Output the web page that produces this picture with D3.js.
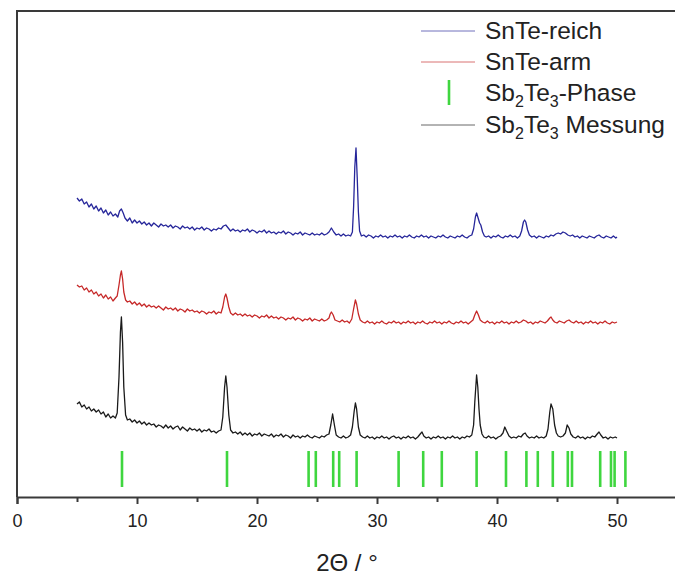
<!DOCTYPE html>
<html>
<head>
<meta charset="utf-8">
<script src="https://cdn.jsdelivr.net/npm/d3@7"></script>
<style>
  html, body { margin: 0; padding: 0; background: #fff; }
  svg { display: block; font-family: "Liberation Sans", Arial, sans-serif; }
</style>
</head>
<body>
<svg id="chart" width="675" height="577"></svg>
<script>
// ---------- data (2Θ in degrees, intensity in arbitrary units, stacked) ----------
const xTicks = [0, 10, 20, 30, 40, 50];
const xMinorTicks = [5, 15, 25, 35, 45, 55];
const seriesNames = ["SnTe-reich", "SnTe-arm", "Sb2Te3-Phase", "Sb2Te3 Messung"];

const snteReich = [[5.0,299],[5.2,296],[5.4,298],[5.6,293],[5.8,295],[6.0,290],[6.2,293],[6.4,288],[6.6,291],[6.8,286],[7.0,289],[7.2,284],[7.4,287],[7.6,282],[7.8,285],[8.0,281],[8.2,283],[8.4,280],[8.55,286],[8.7,288],[8.85,284],[9.0,279],[9.2,276],[9.4,279],[9.6,274],[9.8,277],[10.0,274],[10.2,276],[10.4,273],[10.6,275],[10.8,272],[11.0,274],[11.2,271],[11.4,274],[11.6,272],[11.8,270],[12.0,273],[12.2,271],[12.4,272],[12.6,270],[12.8,272],[13.0,269],[13.2,271],[13.4,270],[13.6,268],[13.8,271],[14.0,269],[14.2,270],[14.4,268],[14.6,270],[14.8,267],[15.0,269],[15.2,268],[15.4,270],[15.6,267],[15.8,269],[16.0,268],[16.2,266],[16.4,268],[16.6,267],[16.8,269],[17.0,268],[17.2,271],[17.4,272],[17.6,269],[17.8,266],[18.0,268],[18.2,266],[18.4,267],[18.6,265],[18.8,267],[19.0,266],[19.2,268],[19.4,265],[19.6,267],[19.8,266],[20.0,264],[20.2,266],[20.4,265],[20.6,267],[20.8,264],[21.0,266],[21.2,264],[21.4,265],[21.6,263],[21.8,265],[22.0,264],[22.2,266],[22.4,263],[22.6,265],[22.8,264],[23.0,262],[23.2,264],[23.4,263],[23.6,265],[23.8,262],[24.0,264],[24.2,263],[24.4,262],[24.6,264],[24.8,262],[25.0,263],[25.2,262],[25.4,264],[25.6,262],[25.8,263],[26.0,265],[26.2,269],[26.4,265],[26.6,262],[26.8,263],[27.0,261],[27.2,263],[27.4,261],[27.6,262],[27.8,261],[27.95,265],[28.05,290],[28.15,330],[28.25,349],[28.35,320],[28.45,285],[28.55,266],[28.7,261],[28.9,262],[29.1,260],[29.3,262],[29.5,261],[29.7,259],[29.9,261],[30.1,260],[30.3,262],[30.5,260],[30.7,261],[30.9,259],[31.1,261],[31.3,260],[31.5,262],[31.7,260],[31.9,261],[32.1,259],[32.3,261],[32.5,260],[32.7,262],[32.9,260],[33.1,259],[33.3,261],[33.5,260],[33.7,262],[33.9,260],[34.1,261],[34.3,259],[34.5,261],[34.7,260],[34.9,259],[35.1,261],[35.3,260],[35.5,262],[35.7,260],[35.9,259],[36.1,261],[36.3,260],[36.5,259],[36.7,261],[36.9,260],[37.1,262],[37.3,260],[37.5,259],[37.7,261],[37.9,262],[38.05,268],[38.2,280],[38.3,284],[38.4,280],[38.55,274],[38.65,272],[38.8,265],[38.95,261],[39.1,260],[39.3,261],[39.5,259],[39.7,261],[39.9,260],[40.1,262],[40.3,260],[40.5,259],[40.7,261],[40.9,260],[41.1,262],[41.3,260],[41.5,261],[41.7,259],[41.9,261],[42.05,266],[42.2,275],[42.3,277],[42.4,275],[42.55,267],[42.7,262],[42.9,260],[43.1,261],[43.3,259],[43.5,261],[43.7,260],[43.9,259],[44.1,261],[44.3,260],[44.5,262],[44.7,261],[44.9,263],[45.1,264],[45.3,263],[45.5,265],[45.7,264],[45.9,262],[46.1,261],[46.3,262],[46.5,260],[46.7,261],[46.9,259],[47.1,261],[47.3,260],[47.5,259],[47.7,261],[47.9,260],[48.1,259],[48.3,261],[48.5,262],[48.7,260],[48.9,259],[49.1,261],[49.3,260],[49.5,259],[49.7,261],[49.9,259],[50.0,260]];

const snteArm = [[5.0,212],[5.2,210],[5.4,211],[5.6,207],[5.8,209],[6.0,205],[6.2,207],[6.4,203],[6.6,205],[6.8,201],[7.0,203],[7.2,199],[7.4,202],[7.6,198],[7.8,200],[8.0,196],[8.2,199],[8.35,201],[8.5,212],[8.62,222],[8.7,226],[8.8,218],[8.9,205],[9.05,197],[9.2,195],[9.4,196],[9.6,193],[9.8,195],[10.0,192],[10.2,194],[10.4,191],[10.6,193],[10.8,190],[11.0,192],[11.2,190],[11.4,191],[11.6,189],[11.8,191],[12.0,189],[12.2,187],[12.4,190],[12.6,188],[12.8,189],[13.0,187],[13.2,189],[13.4,186],[13.6,188],[13.8,187],[14.0,185],[14.2,188],[14.4,186],[14.6,187],[14.8,185],[15.0,186],[15.2,184],[15.4,186],[15.6,185],[15.8,183],[16.0,185],[16.2,184],[16.4,186],[16.6,183],[16.8,185],[17.0,184],[17.15,190],[17.3,200],[17.4,203],[17.5,199],[17.65,190],[17.8,184],[18.0,182],[18.2,184],[18.4,182],[18.6,183],[18.8,181],[19.0,183],[19.2,181],[19.4,182],[19.6,180],[19.8,182],[20.0,181],[20.2,179],[20.4,181],[20.6,180],[20.8,182],[21.0,179],[21.2,181],[21.4,179],[21.6,180],[21.8,178],[22.0,180],[22.2,179],[22.4,177],[22.6,179],[22.8,178],[23.0,180],[23.2,177],[23.4,179],[23.6,178],[23.8,176],[24.0,178],[24.2,177],[24.4,179],[24.6,176],[24.8,178],[25.0,177],[25.2,176],[25.4,178],[25.6,176],[25.8,177],[26.0,179],[26.1,183],[26.2,185],[26.35,182],[26.5,177],[26.7,176],[26.9,175],[27.1,177],[27.3,175],[27.5,176],[27.7,174],[27.9,178],[28.05,188],[28.2,197],[28.3,193],[28.45,183],[28.6,177],[28.8,175],[29.0,174],[29.2,176],[29.4,174],[29.6,175],[29.8,173],[30.0,175],[30.2,174],[30.4,176],[30.6,174],[30.8,173],[31.0,175],[31.2,174],[31.4,176],[31.6,174],[31.8,175],[32.0,173],[32.2,175],[32.4,174],[32.6,176],[32.8,174],[33.0,175],[33.2,173],[33.4,175],[33.6,174],[33.8,176],[34.0,174],[34.2,173],[34.4,175],[34.6,174],[34.8,176],[35.0,174],[35.2,175],[35.4,173],[35.6,175],[35.8,174],[36.0,176],[36.2,174],[36.4,173],[36.6,175],[36.8,174],[37.0,176],[37.2,174],[37.4,175],[37.6,173],[37.8,175],[38.0,177],[38.15,182],[38.3,186],[38.45,182],[38.6,177],[38.8,175],[39.0,174],[39.2,176],[39.4,174],[39.6,175],[39.8,173],[40.0,175],[40.2,174],[40.4,176],[40.6,174],[40.8,175],[41.0,173],[41.2,175],[41.4,174],[41.6,176],[41.8,174],[42.0,175],[42.2,177],[42.4,176],[42.6,174],[42.8,175],[43.0,173],[43.2,175],[43.4,174],[43.6,176],[43.8,175],[44.0,174],[44.2,176],[44.4,179],[44.5,180],[44.65,177],[44.8,175],[45.0,174],[45.2,176],[45.4,175],[45.6,174],[45.8,176],[46.0,177],[46.2,175],[46.4,174],[46.6,176],[46.8,174],[47.0,175],[47.2,173],[47.4,175],[47.6,174],[47.8,176],[48.0,174],[48.2,175],[48.4,173],[48.6,175],[48.8,174],[49.0,176],[49.2,174],[49.4,173],[49.6,175],[49.8,174],[50.0,175]];

const sb2te3Messung = [[5.0,93],[5.2,95],[5.4,90],[5.6,92],[5.8,88],[6.0,90],[6.2,86],[6.4,88],[6.6,85],[6.8,87],[7.0,83],[7.2,85],[7.4,80],[7.6,83],[7.8,79],[8.0,81],[8.2,79],[8.35,84],[8.5,120],[8.62,165],[8.7,180],[8.8,155],[8.9,110],[9.05,82],[9.2,77],[9.4,78],[9.6,75],[9.8,77],[10.0,74],[10.2,76],[10.4,73],[10.6,75],[10.8,72],[11.0,74],[11.2,72],[11.4,73],[11.6,70],[11.8,72],[12.0,71],[12.2,69],[12.4,72],[12.6,69],[12.8,71],[13.0,68],[13.2,70],[13.4,71],[13.6,67],[13.8,70],[14.0,68],[14.2,66],[14.4,69],[14.6,67],[14.8,68],[15.0,66],[15.2,68],[15.4,65],[15.6,67],[15.8,66],[16.0,68],[16.2,65],[16.4,66],[16.6,64],[16.8,66],[17.0,67],[17.15,80],[17.3,110],[17.4,121],[17.5,110],[17.65,82],[17.8,67],[18.0,64],[18.2,65],[18.4,63],[18.6,65],[18.8,62],[19.0,64],[19.2,62],[19.4,64],[19.6,61],[19.8,63],[20.0,62],[20.2,64],[20.4,61],[20.6,63],[20.8,62],[21.0,61],[21.2,63],[21.4,60],[21.6,62],[21.8,61],[22.0,63],[22.2,60],[22.4,62],[22.6,61],[22.8,59],[23.0,62],[23.2,60],[23.4,61],[23.6,59],[23.8,61],[24.0,60],[24.2,62],[24.4,60],[24.6,59],[24.8,61],[25.0,60],[25.2,59],[25.4,61],[25.6,60],[25.8,62],[26.0,63],[26.15,72],[26.3,83],[26.45,72],[26.6,62],[26.8,60],[27.0,59],[27.2,61],[27.4,59],[27.6,60],[27.8,62],[27.95,70],[28.1,86],[28.2,94],[28.3,88],[28.45,70],[28.6,62],[28.8,60],[29.0,59],[29.2,61],[29.4,59],[29.6,60],[29.8,58],[30.0,60],[30.2,59],[30.4,61],[30.6,59],[30.8,60],[31.0,58],[31.2,60],[31.4,61],[31.6,59],[31.8,60],[32.0,58],[32.2,60],[32.4,59],[32.6,61],[32.8,59],[33.0,60],[33.2,58],[33.4,60],[33.6,63],[33.75,65],[33.9,61],[34.1,59],[34.3,60],[34.5,58],[34.7,60],[34.9,59],[35.1,61],[35.3,59],[35.5,60],[35.7,58],[35.9,60],[36.1,59],[36.3,61],[36.5,59],[36.7,60],[36.9,58],[37.1,60],[37.3,59],[37.5,61],[37.7,60],[37.9,62],[38.05,72],[38.15,95],[38.3,122],[38.4,110],[38.5,88],[38.6,72],[38.75,63],[38.9,60],[39.1,59],[39.3,61],[39.5,59],[39.7,60],[39.9,58],[40.1,60],[40.3,61],[40.5,64],[40.65,70],[40.8,66],[41.0,61],[41.2,59],[41.4,60],[41.6,59],[41.8,61],[42.0,60],[42.2,63],[42.35,64],[42.5,61],[42.7,59],[42.9,60],[43.1,59],[43.3,61],[43.5,59],[43.7,60],[43.9,59],[44.1,61],[44.25,68],[44.4,85],[44.5,93],[44.65,88],[44.8,72],[44.95,64],[45.1,61],[45.3,60],[45.5,61],[45.7,64],[45.85,72],[46.0,69],[46.15,63],[46.35,60],[46.55,59],[46.75,61],[46.95,59],[47.15,60],[47.35,58],[47.55,60],[47.75,59],[47.95,61],[48.15,60],[48.35,63],[48.5,65],[48.65,62],[48.85,59],[49.05,60],[49.25,58],[49.45,60],[49.65,59],[49.85,60],[50.0,59]];

const sb2te3Phase = [8.75, 17.5, 24.3, 24.9, 26.35, 26.85, 28.3, 31.8, 33.85, 35.4, 38.3, 40.75, 42.45, 43.4, 44.65, 45.9, 46.25, 48.6, 49.5, 49.8, 50.7];

// ---------- layout / style ----------
const svg = d3.select("#chart");
const M = { left: 17, top: 11, right: 677, bottom: 497 };
const x = d3.scaleLinear().domain([0, 55]).range([M.left, M.right]);
const y = d3.scaleLinear().domain([0, 486]).range([M.bottom, M.top]);

const colors = { reich: "#26269a", arm: "#c62828", phase: "#3fd63f", mess: "#1a1a1a" };
const axisColor = "#3a3a3a";
const textColor = "#222";

// reference (phase) sticks
svg.append("g").selectAll("line").data(sb2te3Phase).join("line")
  .attr("x1", d => x(d)).attr("x2", d => x(d))
  .attr("y1", y(10)).attr("y2", y(46))
  .attr("stroke", colors.phase).attr("stroke-width", 2.6);

// curves
const line = d3.line().x(d => x(d[0])).y(d => y(d[1]));
[[snteReich, colors.reich], [snteArm, colors.arm], [sb2te3Messung, colors.mess]].forEach(([data, c]) => {
  svg.append("path").datum(data)
    .attr("d", line).attr("fill", "none")
    .attr("stroke", c).attr("stroke-width", 1.3).attr("stroke-linejoin", "round");
});

// frame (top + left; right edge lies just outside the view)
svg.append("path")
  .attr("d", `M${M.left},${M.bottom} V${M.top} H${M.right + 5}`)
  .attr("fill", "none").attr("stroke", axisColor).attr("stroke-width", 2);

// bottom axis
const gx = svg.append("g").attr("transform", `translate(0,${M.bottom})`)
  .call(d3.axisBottom(x).tickValues(xTicks).tickSize(7).tickPadding(10).tickFormat(d3.format("d")));
gx.select(".domain").attr("stroke", axisColor).attr("stroke-width", 2);
gx.selectAll(".tick line").attr("stroke", axisColor).attr("stroke-width", 2);
gx.selectAll(".tick text").attr("fill", textColor).attr("font-size", 18)
  .attr("font-family", "'Liberation Sans', Arial, sans-serif");

const gm = svg.append("g").attr("transform", `translate(0,${M.bottom})`)
  .call(d3.axisBottom(x).tickValues(xMinorTicks).tickSize(5).tickFormat(""));
gm.select(".domain").remove();
gm.selectAll(".tick line").attr("stroke", axisColor).attr("stroke-width", 2);

// axis title
svg.append("text")
  .attr("x", x(27.5)).attr("y", 571)
  .attr("text-anchor", "middle").attr("font-size", 24).attr("fill", textColor)
  .text("2Θ / °");

// legend
const lg = svg.append("g").attr("font-size", 24.5).attr("fill", textColor);
const lx1 = 421, lx2 = 475, tx = 485;
const rows = [
  { y: 39, kind: "line", color: colors.reich, parts: [["SnTe-reich", false]] },
  { y: 70, kind: "line", color: colors.arm, parts: [["SnTe-arm", false]] },
  { y: 101, kind: "stick", color: colors.phase, parts: [["Sb", false], ["2", true], ["Te", false], ["3", true], ["-Phase", false]] },
  { y: 133, kind: "line", color: colors.mess, parts: [["Sb", false], ["2", true], ["Te", false], ["3", true], [" Messung", false]] }
];
rows.forEach(r => {
  if (r.kind === "line") {
    lg.append("line").attr("x1", lx1).attr("x2", lx2)
      .attr("y1", r.y - 8).attr("y2", r.y - 8)
      .attr("stroke", r.color).attr("stroke-width", 1).attr("opacity", 0.65);
  } else {
    lg.append("line").attr("x1", (lx1 + lx2) / 2 + 1).attr("x2", (lx1 + lx2) / 2 + 1)
      .attr("y1", r.y - 21).attr("y2", r.y + 4)
      .attr("stroke", r.color).attr("stroke-width", 2.6);
  }
  const t = lg.append("text").attr("x", tx).attr("y", r.y).attr("xml:space", "preserve");
  r.parts.forEach(([s, sub], i) => {
    const ts = t.append("tspan").text(s);
    if (sub) ts.attr("font-size", 16).attr("dy", 6);
    else if (i > 0 && r.parts[i - 1][1]) ts.attr("dy", -6);
  });
});
</script>
</body>
</html>
